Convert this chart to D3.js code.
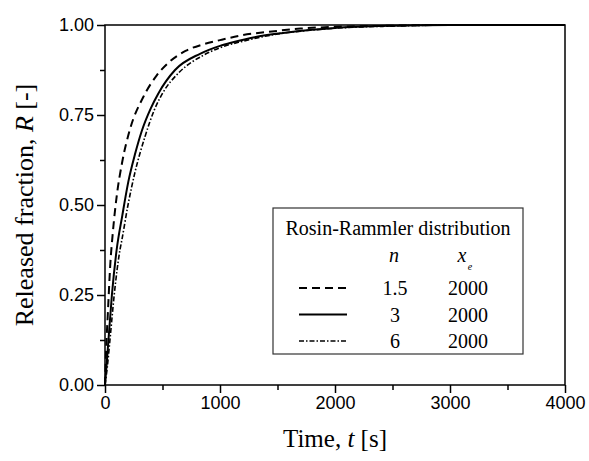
<!DOCTYPE html>
<html>
<head>
<meta charset="utf-8">
<script src="https://cdn.jsdelivr.net/npm/d3@7"></script>
<style>
  body { margin: 0; background: #fff; }
  svg { display: block; }
</style>
</head>
<body>
<svg></svg>
<script>
width = 589;
height = 461;

// [time s, released fraction]
let series15 = [[0,0],[10,0.10],[25,0.2],[45,0.33],[70,0.43],[100,0.52],[150,0.62],[217,0.71],[333,0.80],[450,0.86],
    [551,0.895],[700,0.928],[850,0.946],[1000,0.958],[1200,0.972],[1450,0.982],[1700,0.99],[2000,0.995],[2500,0.998],[3000,1],[4000,1]];
let series3 = [[0,0],[15,0.06],[30,0.125],[60,0.25],[101,0.375],[150,0.47],[203,0.565],[260,0.64],[319,0.705],[400,0.77],
    [464,0.81],[609,0.875],[826,0.92],[1000,0.942],[1113,0.952],[1300,0.966],[1548,0.978],[1800,0.987],[2000,0.992],[2500,0.998],[3000,1],[4000,1]];
let series6 = [[0,0],[20,0.05],[43,0.125],[80,0.25],[130,0.375],[145,0.40],[200,0.50],[260,0.59],[348,0.69],[430,0.765],
    [500,0.81],[650,0.87],[850,0.915],[1000,0.937],[1200,0.955],[1500,0.975],[1800,0.986],[2000,0.991],[2500,0.997],[3000,1],[4000,1]];

let xTicks = [0, 1000, 2000, 3000, 4000];
let yTicks = [0, 0.25, 0.5, 0.75, 1.0];
let legendN = ["1.5", "3", "6"];
let legendXe = ["2000", "2000", "2000"];
let dashes = ["8,5", null, "5,2,1.5,2"];

let margin = {left: 105, top: 25, right: 24, bottom: 76};

let svg = d3.select("svg").attr("width", width).attr("height", height);

let x = d3.scaleLinear().domain([0, 4000]).range([margin.left, width - margin.right]);
let y = d3.scaleLinear().domain([0, 1]).range([height - margin.bottom, margin.top]);

let plot = svg.append("g");

// curves
let line = d3.line().x(d => x(d[0])).y(d => y(d[1])).curve(d3.curveMonotoneX);

[series15, series3, series6].forEach(function(s, i){
    plot.append("path")
        .attr("d", line(s))
        .style("fill", "none")
        .style("stroke", "black")
        .style("stroke-width", i == 2 ? 1.6 : 2)
        .style("stroke-dasharray", dashes[i]);
});

// frame
plot.append("rect")
    .attr("x", x(0)).attr("y", y(1))
    .attr("width", x(4000) - x(0)).attr("height", y(0) - y(1))
    .style("fill", "none").style("stroke", "black").style("stroke-width", 1.5);

// axes
let xAxis = svg.append("g")
    .attr("transform", "translate(0," + y(0) + ")")
    .call(d3.axisBottom(x).tickValues(xTicks).tickSize(8).tickPadding(3).tickFormat(d3.format("d")));
let xMinor = svg.append("g")
    .attr("transform", "translate(0," + y(0) + ")")
    .call(d3.axisBottom(x).tickValues([500, 1500, 2500, 3500]).tickSize(5).tickFormat(""));

let yAxis = svg.append("g")
    .attr("transform", "translate(" + x(0) + ",0)")
    .call(d3.axisLeft(y).tickValues(yTicks).tickSize(8).tickPadding(3).tickFormat(d3.format(".2f")));
let yMinor = svg.append("g")
    .attr("transform", "translate(" + x(0) + ",0)")
    .call(d3.axisLeft(y).tickValues([0.125, 0.375, 0.625, 0.875]).tickSize(5).tickFormat(""));

[xAxis, xMinor, yAxis, yMinor].forEach(function(a){
    a.select(".domain").remove();
    a.selectAll("line").style("stroke", "black").style("stroke-width", 1.5);
    a.selectAll("text")
        .style("font-family", "Liberation Sans, Arial, sans-serif")
        .style("font-size", "18px")
        .style("fill", "black");
});

// axis titles
svg.append("text")
    .attr("x", (x(0) + x(4000)) / 2)
    .attr("y", 447)
    .attr("text-anchor", "middle")
    .style("font-family", "Liberation Serif, Times New Roman, serif")
    .style("font-size", "25px")
    .html('Time, <tspan font-style="italic">t</tspan> [s]');

svg.append("text")
    .attr("transform", "translate(33," + ((y(0) + y(1)) / 2) + ") rotate(-90)")
    .attr("text-anchor", "middle")
    .style("font-family", "Liberation Serif, Times New Roman, serif")
    .style("font-size", "26px")
    .html('Released fraction, <tspan font-style="italic">R</tspan> [-]');

// legend
let legend = svg.append("g")
    .style("font-family", "Liberation Serif, Times New Roman, serif")
    .style("font-size", "20px");

legend.append("rect")
    .attr("x", 273).attr("y", 208).attr("width", 250).attr("height", 146)
    .style("fill", "white").style("stroke", "#333").style("stroke-width", 1.2);

legend.append("text")
    .attr("x", 398).attr("y", 235)
    .attr("text-anchor", "middle")
    .text("Rosin-Rammler distribution");

legend.append("text")
    .attr("x", 394).attr("y", 262)
    .attr("text-anchor", "middle")
    .style("font-style", "italic")
    .text("n");
legend.append("text")
    .attr("x", 462).attr("y", 262)
    .attr("text-anchor", "middle")
    .style("font-style", "italic")
    .text("x");
legend.append("text")
    .attr("x", 470).attr("y", 270)
    .attr("text-anchor", "middle")
    .style("font-style", "italic")
    .style("font-size", "10px")
    .text("e");

legendN.forEach(function(n, i){
    let yy = 295 + i * 26.5;
    legend.append("line")
        .attr("x1", 299).attr("x2", 347)
        .attr("y1", yy - 7).attr("y2", yy - 7)
        .style("stroke", "black")
        .style("stroke-width", i == 2 ? 1.6 : 2)
        .style("stroke-dasharray", dashes[i]);
    legend.append("text")
        .attr("x", 395).attr("y", yy)
        .attr("text-anchor", "middle")
        .text(n);
    legend.append("text")
        .attr("x", 468).attr("y", yy)
        .attr("text-anchor", "middle")
        .text(legendXe[i]);
});
</script>
</body>
</html>
